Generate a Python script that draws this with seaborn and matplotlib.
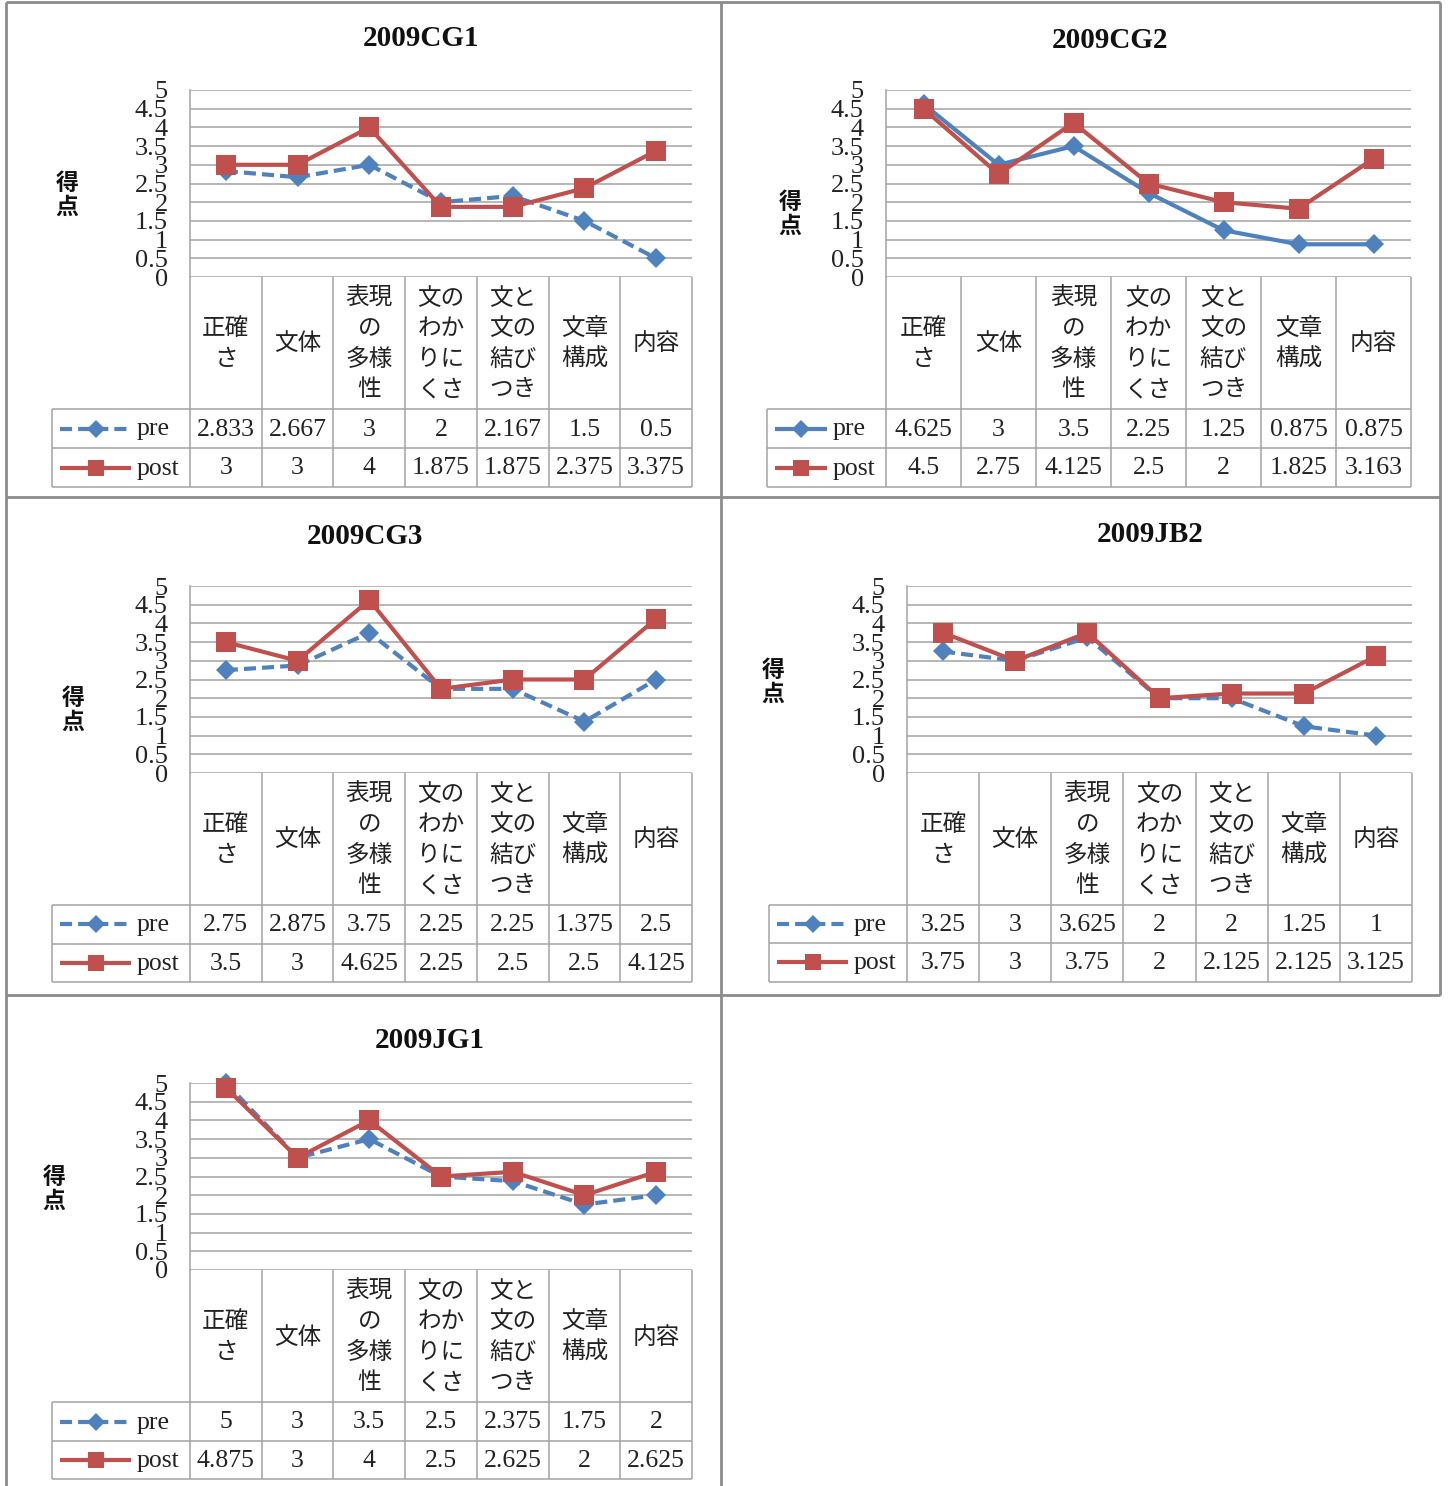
import matplotlib
matplotlib.use("Agg")
import matplotlib.pyplot as plt
import numpy as np
import pandas as pd
import seaborn as sns

# ---- data -----------------------------------------------------------------
categories = ["正確\nさ", "文体", "表現\nの\n多様\n性", "文の\nわか\nりに\nくさ",
              "文と\n文の\n結び\nつき", "文章\n構成", "内容"]
phases = ["pre", "post"]

cg1_pre = [2.833, 2.667, 3, 2, 2.167, 1.5, 0.5]
cg1_post = [3, 3, 4, 1.875, 1.875, 2.375, 3.375]

cg2_pre = [4.625, 3, 3.5, 2.25, 1.25, 0.875, 0.875]
cg2_post = [4.5, 2.75, 4.125, 2.5, 2, 1.825, 3.163]

cg3_pre = [2.75, 2.875, 3.75, 2.25, 2.25, 1.375, 2.5]
cg3_post = [3.5, 3, 4.625, 2.25, 2.5, 2.5, 4.125]

jb2_pre = [3.25, 3, 3.625, 2, 2, 1.25, 1]
jb2_post = [3.75, 3, 3.75, 2, 2.125, 2.125, 3.125]

jg1_pre = [5, 3, 3.5, 2.5, 2.375, 1.75, 2]
jg1_post = [4.875, 3, 4, 2.5, 2.625, 2, 2.625]

y_ticks = [0, 0.5, 1, 1.5, 2, 2.5, 3, 3.5, 4, 4.5, 5]
y_tick_labels = ["0", "0.5", "1", "1.5", "2", "2.5", "3", "3.5", "4", "4.5", "5"]
y_label = "得\n点"

# ---- style ----------------------------------------------------------------
W, H = 1448, 1486
sns.set_theme(style="white")
plt.rcParams["font.family"] = ["Liberation Serif", "Noto Sans CJK JP"]

BLUE = "#4F81BD"
RED = "#C0504D"
GRID = "#A3A3A3"
FRAME = "#8C8C8C"
JP = ["Noto Sans CJK JP", "DejaVu Sans"]

fig = plt.figure(figsize=(W / 100, H / 100), dpi=100)
fig.patch.set_facecolor("white")


def rect(x0, y0, x1, y1):
    """Pixel box (top-left origin) -> figure fraction rect."""
    return [x0 / W, 1 - y1 / H, (x1 - x0) / W, (y1 - y0) / H]


# page frame of the panel grid
bg = fig.add_axes([0, 0, 1, 1])
bg.set_xlim(0, W)
bg.set_ylim(H, 0)
bg.axis("off")
for xs, ys in [((6, 6), (2, 1486)), ((721, 721), (2, 1486)), ((1440, 1440), (2, 995)),
               ((6, 1440), (2, 2)), ((6, 1440), (497, 497)), ((6, 1440), (995, 995))]:
    bg.plot(xs, ys, color=FRAME, lw=2.0, solid_capstyle="butt")

panels = [
    dict(title="2009CG1", pre=cg1_pre, post=cg1_post, solid_pre=False,
         title_xy=(421, 38), ylab_xy=(67, 195), legend_left=52,
         plot=(190, 90, 692, 277), rows=(409, 448, 487)),
    dict(title="2009CG2", pre=cg2_pre, post=cg2_post, solid_pre=True,
         title_xy=(1110, 40), ylab_xy=(790, 214), legend_left=767,
         plot=(886, 90, 1411, 277), rows=(409, 448, 487)),
    dict(title="2009CG3", pre=cg3_pre, post=cg3_post, solid_pre=False,
         title_xy=(365, 537), ylab_xy=(73, 710), legend_left=52,
         plot=(190, 586, 692, 773), rows=(905, 944, 982)),
    dict(title="2009JB2", pre=jb2_pre, post=jb2_post, solid_pre=False,
         title_xy=(1150, 535), ylab_xy=(773, 682), legend_left=769,
         plot=(907, 586, 1412, 773), rows=(905, 943, 982)),
    dict(title="2009JG1", pre=jg1_pre, post=jg1_post, solid_pre=False,
         title_xy=(430, 1040), ylab_xy=(54, 1189), legend_left=52,
         plot=(190, 1083, 692, 1270), rows=(1402, 1441, 1479)),
]

PRE_DASH = (2.9, 1.45)
LW = 3.0
MS = {"pre": 10.5, "post": 14.0}


def style_sample(ax, x0, x1, y, phase, solid_pre):
    """Legend key inside the data table."""
    color = BLUE if phase == "pre" else RED
    marker = "D" if phase == "pre" else "s"
    ls = "-" if (phase == "post" or solid_pre) else (0, PRE_DASH)
    ax.plot([x0, x1], [y, y], color=color, lw=LW, ls=ls, clip_on=False,
            solid_capstyle="butt", dash_capstyle="butt")
    ax.plot([(x0 + x1) / 2], [y], color=color, marker=marker, ms=MS[phase] * 0.85,
            mew=0, ls="none", clip_on=False)


for p in panels:
    px0, py0, px1, py1 = p["plot"]
    n = len(categories)
    df = pd.DataFrame({
        "pos": list(range(n)) * 2,
        "score": p["pre"] + p["post"],
        "phase": ["pre"] * n + ["post"] * n,
    })

    ax = fig.add_axes(rect(px0, py0, px1, py1))
    ax.set_facecolor("white")
    pre_dash = "" if p["solid_pre"] else PRE_DASH
    sns.lineplot(data=df, x="pos", y="score", hue="phase", style="phase",
                 hue_order=phases, style_order=phases,
                 palette={"pre": BLUE, "post": RED},
                 markers={"pre": "D", "post": "s"},
                 dashes={"pre": pre_dash, "post": ""},
                 linewidth=LW, markeredgewidth=0, legend=False,
                 clip_on=False, ax=ax)
    for line in ax.lines:
        if line.get_marker() == "D":
            line.set_markersize(MS["pre"])
            line.set_zorder(3)
        elif line.get_marker() == "s":
            line.set_markersize(MS["post"])
            line.set_zorder(4)

    ax.set_xlim(-0.5, n - 0.5)
    ax.set_ylim(0, 5)
    ax.set_yticks(y_ticks)
    ax.set_yticklabels(y_tick_labels)
    ax.set_xticks([])
    ax.set_xlabel("")
    ax.set_ylabel("")
    ax.tick_params(axis="y", length=0, pad=16, labelsize=19, labelcolor="#222222")
    ax.yaxis.grid(True, color=GRID, lw=1.1)
    ax.xaxis.grid(False)
    for side in ["top", "right", "bottom"]:
        ax.spines[side].set_visible(False)
    ax.spines["left"].set_color(GRID)
    ax.spines["left"].set_linewidth(1.1)
    ax.set_axisbelow(True)

    # title and vertical axis label
    fig.text(p["title_xy"][0] / W, 1 - p["title_xy"][1] / H, p["title"],
             ha="center", va="center", fontsize=21, fontweight="bold",
             family="Liberation Serif", color="#111111")
    fig.text(p["ylab_xy"][0] / W, 1 - p["ylab_xy"][1] / H, y_label,
             ha="center", va="center", fontsize=16.5, fontweight="bold",
             family=JP, linespacing=1.05, color="#111111")

    # data table under the plot
    lx = p["legend_left"]
    hb, mid, tb = p["rows"]
    at = fig.add_axes(rect(lx, py1, px1, tb))
    at.set_xlim(lx, px1)
    at.set_ylim(tb, py1)
    at.axis("off")
    colw = (px1 - px0) / n
    edges = [px0 + i * colw for i in range(n + 1)]
    kw = dict(color=GRID, lw=1.1, clip_on=False, solid_capstyle="butt")
    for e in edges:
        at.plot([e, e], [py1, tb], **kw)
    at.plot([lx, lx], [hb, tb], **kw)
    for yy in (hb, mid, tb):
        at.plot([lx, px1], [yy, yy], **kw)

    for i, cat in enumerate(categories):
        cx = px0 + (i + 0.5) * colw
        at.text(cx, (py1 + hb) / 2 + 1, cat, ha="center", va="center",
                fontsize=17, family=JP, linespacing=1.42, color="#222222")
        for vals, (ya, yb) in ((p["pre"], (hb, mid)), (p["post"], (mid, tb))):
            at.text(cx, (ya + yb) / 2 + 1, f"{vals[i]:g}", ha="center", va="center",
                    fontsize=18.5, color="#222222")

    text_left = px0 - 53
    for phase, (ya, yb) in (("pre", (hb, mid)), ("post", (mid, tb))):
        yc = (ya + yb) / 2
        style_sample(at, lx + 8, text_left - 6, yc, phase, p["solid_pre"])
        at.text(text_left, yc + 1, phase, ha="left", va="center",
                fontsize=18.5, color="#222222")

fig.savefig("out.png", dpi=100, facecolor="white")
